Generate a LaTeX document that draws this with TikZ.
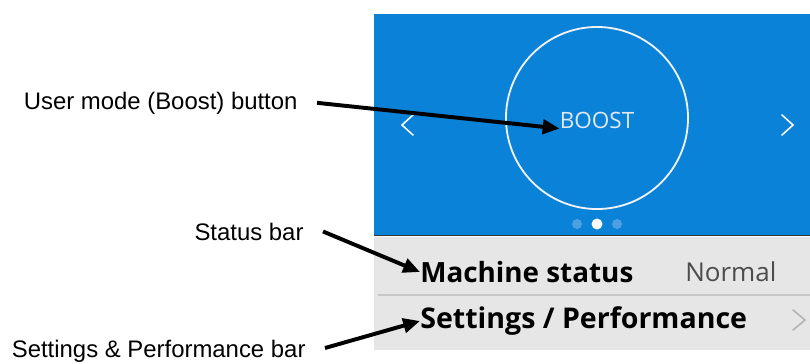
\documentclass[tikz,border=0pt]{standalone}
\usepackage{fontspec}
\setmainfont{Liberation Sans}
\newfontfamily\uifont{Open Sans}
\usetikzlibrary{arrows.meta, positioning}
\definecolor{panelblue}{RGB}{10,130,216}
\definecolor{barbg}{RGB}{230,230,230}
\definecolor{dotblue}{RGB}{80,160,225}
\definecolor{boostgray}{RGB}{225,232,240}

\begin{document}
\begin{tikzpicture}[
  x=0.025cm, y=-0.025cm,
  callout/.style={font=\fontsize{17}{20}\selectfont, inner xsep=0.48cm, inner ysep=2pt, anchor=base east},
  barlabel/.style={font=\uifont\bfseries\fontsize{19.8}{22}\selectfont, inner sep=0pt, anchor=west, text=black},
  pointer/.style={-{Triangle[length=0.42cm,width=0.36cm]}, line width=2.8pt},
  chevron/.style={line width=1.1pt, line cap=round}
]
  \useasboundingbox (0,0) rectangle (810,363);

  % screen: blue panel and grey bars
  \fill[panelblue] (374,14) rectangle (810,235);
  \draw[line width=1.2pt, black!80] (374,235.5) -- (810,235.5);
  \fill[barbg] (374,236.5) rectangle (810,350);
  \draw[black!22, line width=0.8pt] (378,295) -- (810,295);

  % boost button
  \node[circle, draw=white!90!gray, line width=1.3pt, minimum size=4.55cm] (btn) at (597,118) {};
  \node[font=\uifont\fontsize{16}{18}\selectfont, text=boostgray, inner sep=0pt] (boost) at (597,120) {BOOST};
  \draw[chevron, white] (413,115) -- (402,125) -- (413,135);
  \draw[chevron, white] (782,115) -- (793,125) -- (782,135);

  % page dots
  \fill[dotblue] (577,224) circle (5);
  \fill[white] (597,224) circle (5.5);
  \fill[dotblue] (617,224) circle (5);

  % bars
  \node[barlabel] (mach) at (420,272) {Machine status};
  \node[font=\uifont\fontsize{18.5}{22}\selectfont, text=black!70, inner sep=0pt, anchor=west] (norm) at (685,272) {Normal};
  \node[barlabel, font=\uifont\bfseries\fontsize{20.3}{22}\selectfont] (sett) at (420,321) {Settings / Performance};
  \draw[chevron, black!30] (793,310) -- (805,320) -- (793,330);

  % callouts
  \node[callout] (usrlbl) at (317,109) {User mode (Boost) button};
  \node[callout] (statlbl) at (323,240) {Status bar};
  \node[callout] (setlbl) at (325,357) {Settings \& Performance bar};

  \draw[pointer] (usrlbl.east) -- (boost.south west);
  \draw[pointer] (statlbl.east) -- (mach.west);
  \draw[pointer] ([yshift=2pt]setlbl.east) -- (sett.west);
\end{tikzpicture}
\end{document}
